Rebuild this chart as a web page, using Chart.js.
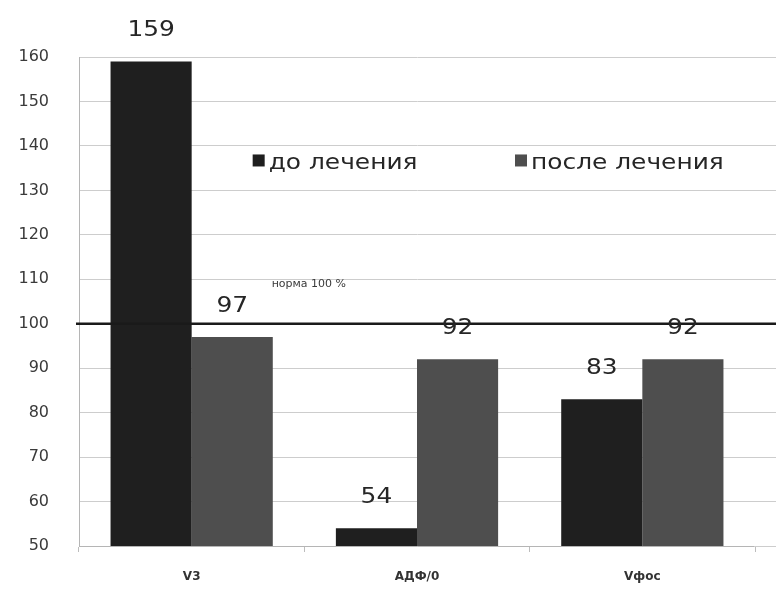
<!DOCTYPE html>
<html>
<head>
<meta charset="utf-8">
<script src="https://cdn.jsdelivr.net/npm/chart.js@4/dist/chart.umd.min.js"></script>
<style>
  html, body { margin: 0; padding: 0; background: #fff; }
  #wrap { width: 776px; height: 592px; }
</style>
</head>
<body>
<div id="wrap"><canvas id="c" width="776" height="592"></canvas></div>
<script>
const categories = ['V3', 'АДФ/0', 'Vфос'];
const beforeTreatment = [159, 54, 83];
const afterTreatment = [97, 92, 92];
const seriesNames = ['до лечения', 'после лечения'];
const normValue = 100;
const normLabel = 'норма 100 %';
const yMin = 50, yMax = 160, yStep = 10;

const DARK = '#1f1f1f';
const GRAY = '#4e4e4e';
const GRID = '#cdcdcd';
const FONT = '"DejaVu Sans", "Open Sans", sans-serif';
const WIDEN = 1.13; // horizontal stretch of the large captions

const align = p => Math.round(p - 0.5) + 0.5;

// draws text stretched horizontally around its anchor point
function wideText(ctx, text, x, y, alignMode) {
  ctx.save();
  ctx.translate(x, y);
  ctx.scale(WIDEN, 1);
  ctx.textAlign = alignMode;
  ctx.fillText(text, 0, 0);
  ctx.restore();
}

// Grid lines continue past the plot area to the right edge of the canvas
const extendGrid = {
  id: 'extendGrid',
  beforeDatasetsDraw(chart) {
    const { ctx, chartArea, scales: { y } } = chart;
    ctx.save();
    ctx.strokeStyle = GRID;
    ctx.lineWidth = 1;
    y.ticks.forEach(t => {
      const py = align(y.getPixelForValue(t.value));
      ctx.beginPath();
      ctx.moveTo(chartArea.right - 1, py);
      ctx.lineTo(chart.width, py);
      ctx.stroke();
    });
    ctx.restore();
  }
};

// Norm line, its caption, value labels and the legend inside the plot
const overlay = {
  id: 'overlay',
  afterDatasetsDraw(chart) {
    const { ctx, chartArea, scales: { x, y } } = chart;
    ctx.save();
    const ny = y.getPixelForValue(normValue);
    ctx.strokeStyle = '#1a1a1a';
    ctx.lineWidth = 2.5;
    ctx.beginPath();
    ctx.moveTo(chartArea.left - 3, ny);
    ctx.lineTo(chart.width, ny);
    ctx.stroke();

    ctx.fillStyle = '#3a3a3a';
    ctx.font = '11px ' + FONT;
    ctx.textAlign = 'left';
    ctx.textBaseline = 'middle';
    ctx.fillText(normLabel, x.getPixelForValue(0) + 80, y.getPixelForValue(109));

    ctx.fillStyle = '#262626';
    ctx.font = '22px ' + FONT;
    chart.data.datasets.forEach((ds, di) => {
      chart.getDatasetMeta(di).data.forEach((bar, i) => {
        wideText(ctx, String(ds.data[i]), bar.x, bar.y - 31, 'center');
      });
    });

    // legend
    const ly = y.getPixelForValue(134.7);
    ctx.font = '22px ' + FONT;
    ctx.textBaseline = 'alphabetic';
    const items = [
      { text: seriesNames[0], color: DARK, x: x.getPixelForValue(0) + 61 },
      { text: seriesNames[1], color: GRAY, x: x.getPixelForValue(1) + 98 }
    ];
    items.forEach(it => {
      ctx.fillStyle = it.color;
      ctx.fillRect(it.x, ly - 15, 12, 12);
      ctx.fillStyle = '#262626';
      wideText(ctx, it.text, it.x + 16, ly, 'left');
    });
    ctx.restore();
  }
};

new Chart(document.getElementById('c'), {
  type: 'bar',
  data: {
    labels: categories,
    datasets: [
      { label: seriesNames[0], data: beforeTreatment, backgroundColor: DARK },
      { label: seriesNames[1], data: afterTreatment, backgroundColor: GRAY }
    ]
  },
  options: {
    responsive: false,
    animation: false,
    layout: { padding: { top: 57, right: 21, left: 0, bottom: 0 } },
    plugins: { legend: { display: false }, tooltip: { enabled: false } },
    datasets: { bar: { barPercentage: 1, categoryPercentage: 0.72 } },
    scales: {
      x: {
        grid: { display: true, offset: true, drawOnChartArea: false, tickLength: 6, color: '#bdbdbd' },
        border: { color: '#b5b5b5' },
        ticks: { color: '#333', font: { family: FONT, size: 12, weight: 'bold' }, padding: 18 },
        afterFit(s) { s.height = 46; }
      },
      y: {
        min: yMin, max: yMax,
        grid: { color: GRID, drawTicks: false },
        border: { color: '#b5b5b5' },
        ticks: { stepSize: yStep, color: '#3a3a3a', font: { family: FONT, size: 16 }, padding: 30 },
        afterFit(s) { s.width = 79; }
      }
    }
  },
  plugins: [extendGrid, overlay]
});
</script>
</body>
</html>
